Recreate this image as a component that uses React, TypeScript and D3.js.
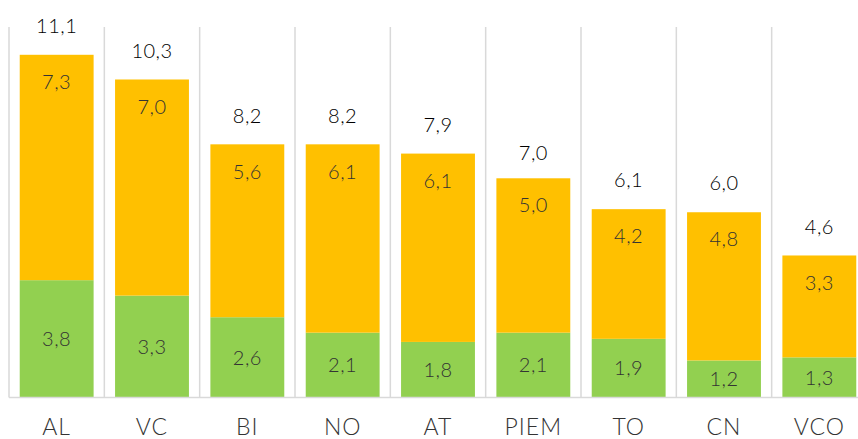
import React, { useEffect } from 'react';
import * as d3 from 'd3';

// province codes
const categories = ['AL', 'VC', 'BI', 'NO', 'AT', 'PIEM', 'TO', 'CN', 'VCO'];
// bottom series (green)
const greenValues = [3.8, 3.3, 2.6, 2.1, 1.8, 2.1, 1.9, 1.2, 1.3];
// top series (orange)
const orangeValues = [7.3, 7.0, 5.6, 6.1, 6.1, 5.0, 4.2, 4.8, 3.3];
// totals shown above bars
const totals = [11.1, 10.3, 8.2, 8.2, 7.9, 7.0, 6.1, 6.0, 4.6];

const W = 858;
const H = 439;
const fmt = (v: number) => v.toFixed(1).replace('.', ',');

export default function App() {
  useEffect(() => {
    document.body.style.margin = '0';
  }, []);

  const x = d3.scaleBand<string>().domain(categories).range([9, 867]).paddingInner(0.225).paddingOuter(0.1125);
  const y = d3.scaleLinear().domain([0, 12]).range([397.5, 27]);
  const step = x.step();
  const font = 'Lato, "Open Sans", sans-serif';

  return (
    <svg width={W} height={H} style={{ display: 'block', background: '#fff' }}>
      {/* vertical gridlines between categories */}
      {d3.range(categories.length + 1).map(i => {
        const gx = 9 + i * step;
        return <line key={'g' + i} x1={gx} x2={gx} y1={y(12)} y2={y(0)} stroke="#d9d9d9" strokeWidth={1.5} />;
      })}
      {categories.map((c, i) => {
        const bx = x(c)!;
        const bw = x.bandwidth();
        const g = greenValues[i];
        const o = orangeValues[i];
        const cx = bx + bw / 2;
        return (
          <g key={c}>
            <rect x={bx} y={y(g)} width={bw} height={y(0) - y(g)} fill="#92d050" />
            <rect x={bx} y={y(g + o)} width={bw} height={y(g) - y(g + o)} fill="#ffc000" />
            <text x={cx} y={(y(0) + y(g)) / 2} dy="0.36em" textAnchor="middle" fontFamily={font} fontWeight={300} fontSize={20} letterSpacing={0.5} fill="#333">
              {fmt(g)}
            </text>
            <text x={cx} y={y(g + o) + 27} dy="0.36em" textAnchor="middle" fontFamily={font} fontWeight={300} fontSize={20} letterSpacing={0.5} fill="#333">
              {fmt(o)}
            </text>
            <text x={cx} y={y(totals[i]) - 29} dy="0.36em" textAnchor="middle" fontFamily={font} fontWeight={300} fontSize={20} letterSpacing={0.5} fill="#000">
              {fmt(totals[i])}
            </text>
            <text x={cx} y={435} textAnchor="middle" fontFamily={font} fontWeight={300} fontSize={23} letterSpacing={1} fill="#333">
              {c}
            </text>
          </g>
        );
      })}
      <line x1={9} x2={W} y1={y(0)} y2={y(0)} stroke="#d9d9d9" strokeWidth={1.5} />
    </svg>
  );
}
